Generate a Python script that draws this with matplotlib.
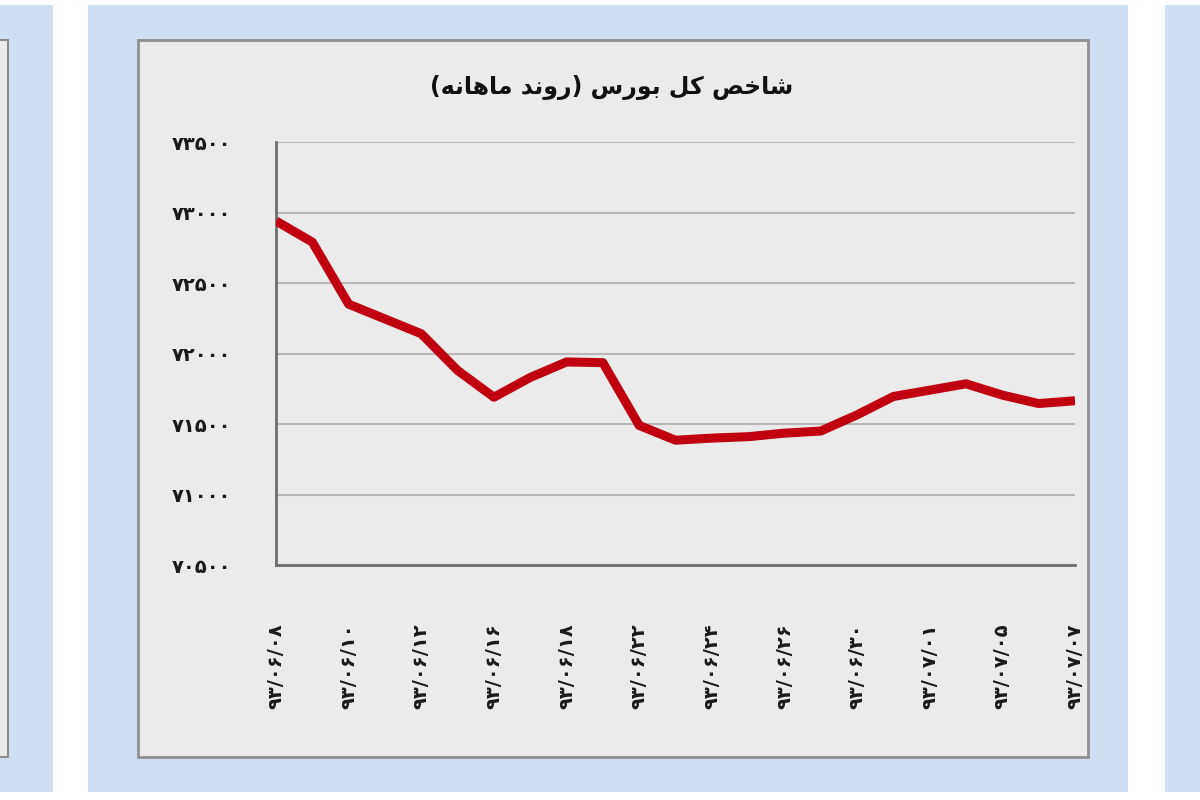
import matplotlib
matplotlib.use('Agg')
import matplotlib.pyplot as plt
from matplotlib.patches import Rectangle

# data
title = 'شاخص کل بورس (روند ماهانه)'
date_labels = ['۹۳/۰۶/۰۸', '۹۳/۰۶/۱۰', '۹۳/۰۶/۱۲', '۹۳/۰۶/۱۶', '۹۳/۰۶/۱۸', '۹۳/۰۶/۲۲',
               '۹۳/۰۶/۲۴', '۹۳/۰۶/۲۶', '۹۳/۰۶/۳۰', '۹۳/۰۷/۰۱', '۹۳/۰۷/۰۵', '۹۳/۰۷/۰۷']
index_values = [72940, 72790, 72350, 72245, 72140, 71880, 71690, 71830, 71940, 71935, 71490, 71385,
                71400, 71410, 71435, 71450, 71565, 71695, 71740, 71785, 71705, 71645, 71665]
y_ticks = [70500, 71000, 71500, 72000, 72500, 73000, 73500]

PERSIAN_DIGITS = str.maketrans('0123456789', '۰۱۲۳۴۵۶۷۸۹')

# presentation forms: isolated, final, initial, medial (None = does not join forward)
FORMS = {
    'ا': ('\uFE8D', '\uFE8E', None, None),
    'ب': ('\uFE8F', '\uFE90', '\uFE91', '\uFE92'),
    'خ': ('\uFEA5', '\uFEA6', '\uFEA7', '\uFEA8'),
    'د': ('\uFEA9', '\uFEAA', None, None),
    'ر': ('\uFEAD', '\uFEAE', None, None),
    'س': ('\uFEB1', '\uFEB2', '\uFEB3', '\uFEB4'),
    'ش': ('\uFEB5', '\uFEB6', '\uFEB7', '\uFEB8'),
    'ص': ('\uFEB9', '\uFEBA', '\uFEBB', '\uFEBC'),
    'ل': ('\uFEDD', '\uFEDE', '\uFEDF', '\uFEE0'),
    'م': ('\uFEE1', '\uFEE2', '\uFEE3', '\uFEE4'),
    'ن': ('\uFEE5', '\uFEE6', '\uFEE7', '\uFEE8'),
    'ه': ('\uFEE9', '\uFEEA', '\uFEEB', '\uFEEC'),
    'و': ('\uFEED', '\uFEEE', None, None),
    'ک': ('\uFB8E', '\uFB8F', '\uFB90', '\uFB91'),
}


def shape_rtl(text):
    """join Persian letters and put them in visual (left to right) order"""
    out = []
    for i, ch in enumerate(text):
        if ch not in FORMS:
            out.append(ch)
            continue
        prev = text[i - 1] if i > 0 else ''
        nxt = text[i + 1] if i + 1 < len(text) else ''
        joins_prev = prev in FORMS and FORMS[prev][2] is not None
        joins_next = FORMS[ch][2] is not None and nxt in FORMS
        iso, fin, ini, med = FORMS[ch]
        if joins_prev and joins_next:
            out.append(med)
        elif joins_prev:
            out.append(fin)
        elif joins_next:
            out.append(ini)
        else:
            out.append(iso)
    mirror = {'(': ')', ')': '('}
    return ''.join(mirror.get(c, c) for c in reversed(out))


W, H = 1200, 800
fig = plt.figure(figsize=(12, 8), dpi=100)
fig.patch.set_facecolor('white')

blue = '#cfdff1'
gray = '#ebebeb'


def px_rect(x0, y0, x1, y1, **kw):
    fig.patches.append(Rectangle((x0 / W, 1 - y1 / H), (x1 - x0) / W, (y1 - y0) / H,
                                 transform=fig.transFigure, zorder=-5, **kw))


# neighbouring panels cut by the screenshot
px_rect(0, 5, 53, 792, facecolor=blue, edgecolor='none')
px_rect(-5, 40, 8, 757, facecolor=gray, edgecolor='#8c8c8c', linewidth=1.5)
px_rect(1165, 5, 1205, 792, facecolor=blue, edgecolor='none')

# main panel
px_rect(88, 5, 1128, 792, facecolor=blue, edgecolor='none')
px_rect(138, 40, 1088, 757, facecolor=gray, edgecolor='#8f8f8f', linewidth=2)

ax = fig.add_axes([276 / W, 1 - 565 / H, 799 / W, 423 / H])
ax.set_zorder(2)
ax.set_facecolor(gray)

x = list(range(len(index_values)))
ax.plot(x, index_values, color='#c00010', linewidth=6.5, solid_joinstyle='round',
        solid_capstyle='butt', zorder=3)

ax.set_xlim(0, len(index_values) - 1)
ax.set_ylim(y_ticks[0], y_ticks[-1])
ax.set_yticks(y_ticks)
ax.set_yticklabels([str(v).translate(PERSIAN_DIGITS) for v in y_ticks],
                   fontsize=14, fontweight='bold', color='#1a1a1a')
ax.set_xticks(x[::2])
ax.set_xticklabels(date_labels, rotation=90, fontsize=14, fontweight='bold', color='#1a1a1a')
ax.tick_params(axis='y', length=0, pad=32)
ax.tick_params(axis='x', length=0, pad=42)

ax.grid(axis='y', color='#b8b8b8', linewidth=1.5)
ax.set_axisbelow(True)
for side in ['top', 'right']:
    ax.spines[side].set_visible(False)
for side in ['left', 'bottom']:
    ax.spines[side].set_color('#6e6e6e')
    ax.spines[side].set_linewidth(2)

fig.text(612 / W, 1 - 87 / H, shape_rtl(title), ha='center', va='center',
         fontsize=17, fontweight='bold', color='#111111', zorder=3)

fig.savefig('out.png', dpi=100)
